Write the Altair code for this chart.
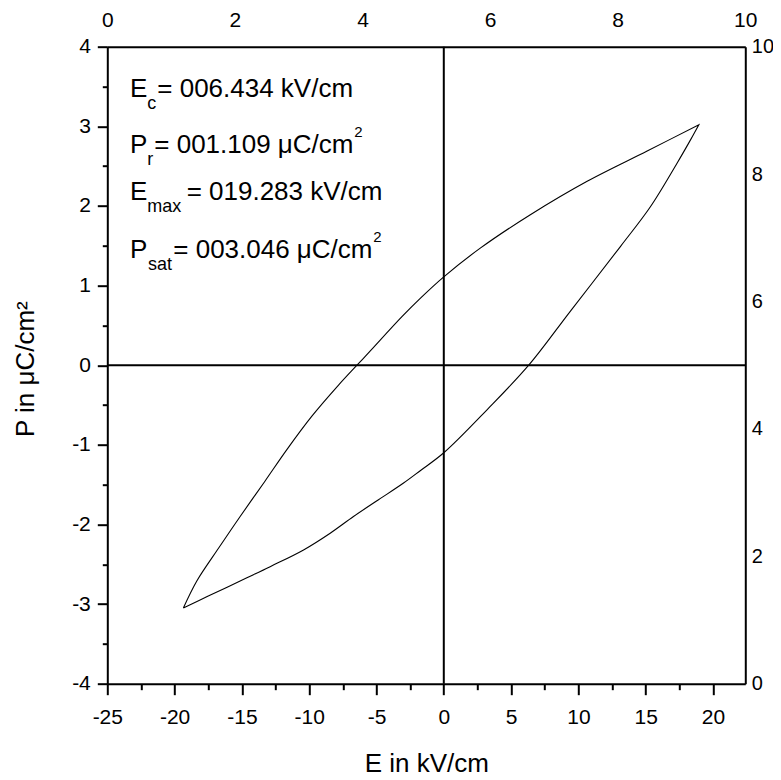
import altair as alt
import pandas as pd

# ---------------- data ----------------
# upper branch (descending field branch), from bottom tip to top tip
E_up = [-19.35, -18.35, -16.70, -15.13, -13.30, -11.66, -9.80, -7.82, -6.45, -5.46,
        -3.11, -1.75, 0.00, 2.71, 6.43, 10.65, 15.11, 18.95]
P_up = [-3.05, -2.71, -2.29, -1.90, -1.46, -1.06, -0.64, -0.25, 0.00, 0.18,
        0.61, 0.84, 1.11, 1.47, 1.89, 2.31, 2.69, 3.02]
# lower branch (ascending field branch), from bottom tip to top tip
E_lo = [-19.35, -17.50, -14.63, -12.90, -10.42, -8.44, -6.71, -4.85, -2.99, -1.75,
        0.00, 3.21, 6.31, 9.41, 13.12, 15.35, 17.34, 18.33, 18.95]
P_lo = [-3.05, -2.90, -2.67, -2.53, -2.32, -2.11, -1.90, -1.69, -1.48, -1.325,
        -1.10, -0.56, 0.00, 0.68, 1.49, 1.99, 2.54, 2.83, 3.02]

x_ticks = [-25, -22.5, -20, -17.5, -15, -12.5, -10, -7.5, -5, -2.5, 0, 2.5, 5, 7.5,
           10, 12.5, 15, 17.5, 20]
y_ticks = [-4, -3.5, -3, -2.5, -2, -1.5, -1, -0.5, 0, 0.5, 1, 1.5, 2, 2.5, 3, 3.5, 4]
top_ticks = [0, 2, 4, 6, 8, 10]
right_ticks = [0, 2, 4, 6, 8, 10]

ann_sym = ["E", "P", "E", "P"]
ann_sub = ["c", "r", "max", "sat"]
ann_main = ["= 006.434 kV/cm", "= 001.109 \u03bcC/cm", "= 019.283 kV/cm", "= 003.046 \u03bcC/cm"]
ann_sup = ["", "2", "", "2"]

x_title = "E in kV/cm"
y_title = "P in \u03bcC/cm\u00b2"

FONT = "Liberation Sans"

# ---------------- chart ----------------
loop = pd.DataFrame({"E": E_lo + E_up[::-1], "P": P_lo + P_up[::-1]})
loop["i"] = range(len(loop))

xs = alt.Scale(domain=[-25, 22.4], nice=False, zero=False)
ys = alt.Scale(domain=[-4, 4], nice=False, zero=False)

x_axis = alt.Axis(
    values=x_ticks, title=x_title, orient="bottom",
    labelExpr="datum.value % 5 === 0 ? '' + datum.value : ''",
    tickSize={"condition": {"test": "datum.value % 5 !== 0", "value": 6}, "value": 11},
    labelBaseline="alphabetic", labelPadding=29, labelFontSize=21, labelFlush=False,
    labelOverlap=False, titleFontSize=26, titleBaseline="alphabetic", titleY=88,
    titleFontWeight="normal",
)
y_axis = alt.Axis(
    values=y_ticks, title=y_title, orient="left",
    labelExpr="datum.value % 1 === 0 ? '' + datum.value : ''",
    tickSize={"condition": {"test": "datum.value % 1 !== 0", "value": 5}, "value": 10},
    labelBaseline="middle", labelPadding=7, labelFontSize=21, labelFlush=False,
    labelOverlap=False, titleFontSize=26, titleBaseline="alphabetic", titleAngle=270,
    titleX=-74, titleY=322, titleFontWeight="normal",
)

curve = alt.Chart(loop).mark_line(color="black", strokeWidth=1.1, interpolate="catmull-rom").encode(
    x=alt.X("E:Q", scale=xs, axis=x_axis),
    y=alt.Y("P:Q", scale=ys, axis=y_axis),
    order="i:Q",
)
rule_x = alt.Chart(pd.DataFrame({"E": [0]})).mark_rule(color="black", strokeWidth=2).encode(
    x=alt.X("E:Q", scale=xs, axis=x_axis)
)
rule_y = alt.Chart(pd.DataFrame({"P": [0]})).mark_rule(color="black", strokeWidth=2).encode(
    y=alt.Y("P:Q", scale=ys, axis=y_axis)
)


def piece(s, x, y, size):
    return alt.Chart(pd.DataFrame({"t": [s]})).mark_text(
        align="left", baseline="alphabetic", fontSize=size, font=FONT, color="black"
    ).encode(x=alt.value(x), y=alt.value(y), text="t:N")


# positions (plot-area pixels) of each annotation row
row_base = [50, 106.3, 153.3, 211.3]
sub_x = [40, 40, 40, 40.7]
main_x = [50, 47, 79.4, 66]
sup_x = [0, 247, 0, 266]
sup_base = [0, 90.3, 0, 195.3]

texts = []
for k in range(4):
    texts.append(piece(ann_sym[k], 22.7, row_base[k], 26))
    texts.append(piece(ann_sub[k], sub_x[k], row_base[k] + 12, 18))
    texts.append(piece(ann_main[k], main_x[k], row_base[k], 26))
    if ann_sup[k]:
        texts.append(piece(ann_sup[k], sup_x[k], sup_base[k], 15))

inner = alt.layer(curve, rule_x, rule_y, *texts)

sec = alt.Chart(pd.DataFrame({"t": top_ticks, "r": right_ticks})).mark_point(opacity=0).encode(
    x=alt.X("t:Q", scale=alt.Scale(domain=[0, 10], nice=False, zero=False),
            axis=alt.Axis(orient="top", values=top_ticks, title=None, ticks=False, tickSize=0,
                          labelPadding=20, labelBaseline="alphabetic", labelFontSize=21,
                          labelFlush=False, labelOverlap=False)),
    y=alt.Y("r:Q", scale=alt.Scale(domain=[0, 10], nice=False, zero=False),
            axis=alt.Axis(orient="right", values=right_ticks, title=None, ticks=False, tickSize=0,
                          labelPadding=6, labelBaseline="middle", labelAlign="left",
                          labelFontSize=20, labelFlush=False, labelOverlap=False)),
)

chart = alt.layer(inner, sec).resolve_scale(x="independent", y="independent").properties(
    width=638, height=637,
    autosize=alt.AutoSizeParams(type="none"),
    padding={"left": 99.3, "top": 38.7, "right": 27.5, "bottom": 95},
    background="white",
).configure_axis(
    domainColor="black", domainWidth=2, tickColor="black", tickWidth=2,
    labelColor="black", titleColor="black", labelFont=FONT, titleFont=FONT, grid=False,
).configure_view(stroke=None)

chart.save("out.html", embed_options={"renderer": "svg", "actions": False})
